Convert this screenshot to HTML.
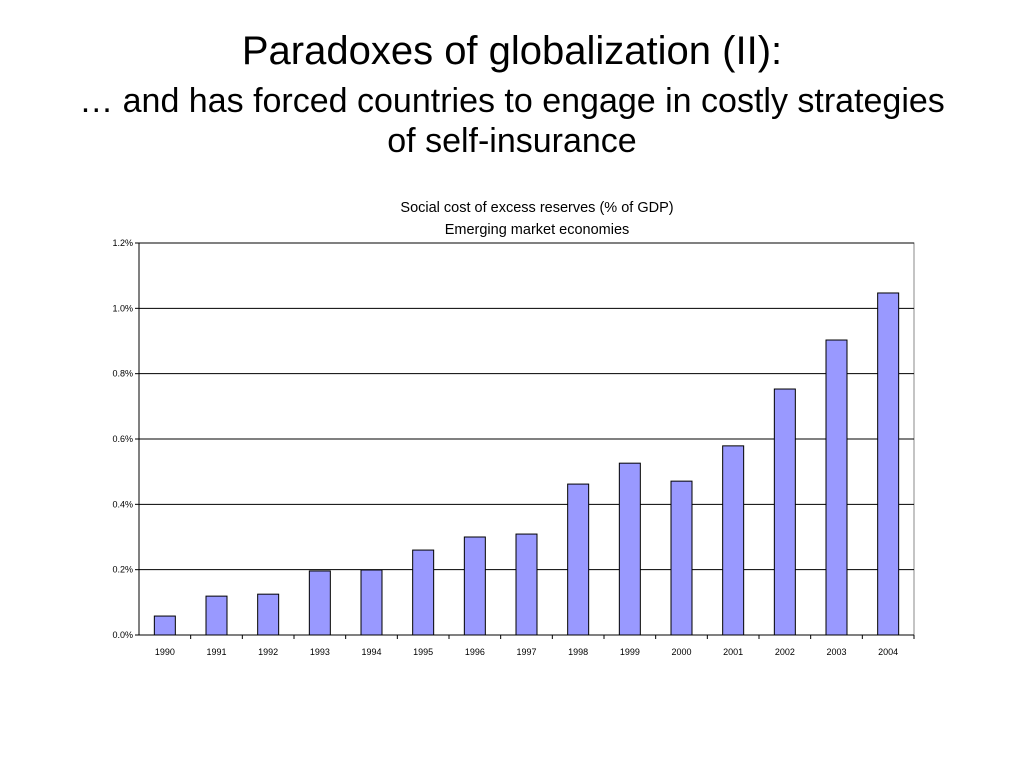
<!DOCTYPE html>
<html><head><meta charset="utf-8"><style>
html,body{margin:0;padding:0;background:#fff;}
body{width:1024px;height:768px;position:relative;overflow:hidden;font-family:"Liberation Sans",sans-serif;}
.t{position:absolute;left:0;width:1024px;text-align:center;color:#000;white-space:nowrap;}
</style></head><body>
<div class="t" style="top:28px;font-size:40px;line-height:46px;">Paradoxes of globalization (II):</div>
<div class="t" style="top:81px;font-size:34px;line-height:40px;">… and has forced countries to engage in costly strategies<br>of self-insurance</div>
<svg id="chart" width="1024" height="768" style="position:absolute;left:0;top:0" font-family="Liberation Sans, sans-serif">
<text x="537" y="212" font-size="14.5" text-anchor="middle">Social cost of excess reserves (% of GDP)</text>
<text x="537" y="234" font-size="14.5" text-anchor="middle">Emerging market economies</text>
</svg>
<script>
const years=["1990","1991","1992","1993","1994","1995","1996","1997","1998","1999","2000","2001","2002","2003","2004"];
const values=[0.058,0.119,0.125,0.196,0.199,0.26,0.30,0.309,0.462,0.526,0.471,0.579,0.753,0.903,1.047];
const yTicks=[0,0.2,0.4,0.6,0.8,1.0,1.2];
const yTickLabels=["0.0%","0.2%","0.4%","0.6%","0.8%","1.0%","1.2%"];
const svg=document.getElementById('chart');const NS='http://www.w3.org/2000/svg';
const L=139,R=914,T=243,B=635,yMax=1.2;
function y(v){return B-(v/yMax)*(B-T);}
const bw=(R-L)/years.length;
function x(i){return L+bw*i;}
function mk(tag,attrs){const e=document.createElementNS(NS,tag);for(const k in attrs)e.setAttribute(k,attrs[k]);svg.appendChild(e);return e;}
const frame=mk('rect',{x:L,y:T,width:R-L,height:B-T,fill:'none',stroke:'#888','stroke-width':1});


yTicks.forEach((v,i)=>{
 const g=mk('line',{x1:L,x2:R,y1:y(v),y2:y(v),stroke:'#000','stroke-width':1});
 
 
 const tk=mk('line',{x1:L-4,x2:L,y1:y(v),y2:y(v),stroke:'#000'});
 
 
 const t=mk('text',{x:L-6,y:y(v)+3,'font-size':9,'text-anchor':'end'});
 t.textContent=yTickLabels[i];
 
 
});
const ya=mk('line',{x1:L,x2:L,y1:T,y2:B,stroke:'#000'});


years.forEach((yr,i)=>{
 const cx=x(i)+bw/2;
 const r=mk('rect',{x:cx-10.5,y:y(values[i]),width:21,height:B-y(values[i]),fill:'#9999ff',stroke:'#000','stroke-width':1});
 
 
 const tk=mk('line',{x1:x(i+1),x2:x(i+1),y1:B,y2:B+4,stroke:'#000'});
 
 
 const t=mk('text',{x:cx,y:B+20,'font-size':9,'text-anchor':'middle'});
 t.textContent=yr;
 
 
});
const xa=mk('line',{x1:L,x2:R,y1:B,y2:B,stroke:'#000'});


</script>
</body></html>
